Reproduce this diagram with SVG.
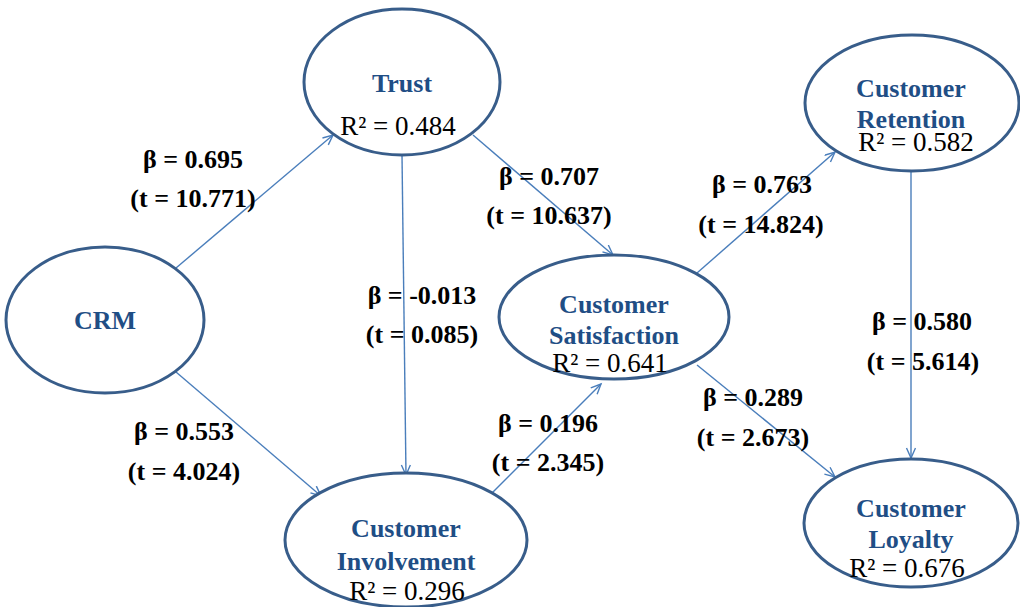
<svg xmlns="http://www.w3.org/2000/svg" width="1020" height="607" viewBox="0 0 1020 607">
<defs>
<marker id="arr" markerUnits="userSpaceOnUse" markerWidth="14" markerHeight="12" refX="11" refY="5" orient="auto">
<path d="M1,0.5 L11,5 L1,9.5" fill="none" stroke="#4A7EBB" stroke-width="1.4"/>
</marker>
<style>
.node{fill:#fff;stroke:#385D8A;stroke-width:3}
.lbl{font-family:"Liberation Serif",serif;font-weight:bold;font-size:26px;fill:#1F4E85;text-anchor:middle}
.r2{font-family:"Liberation Serif",serif;font-size:27px;fill:#000;text-anchor:middle}
.coef{font-family:"Liberation Serif",serif;font-weight:bold;font-size:26px;fill:#000;text-anchor:middle}
.edge{stroke:#4A7EBB;stroke-width:1.4;fill:none;marker-end:url(#arr)}
</style>
</defs>
<rect width="1020" height="607" fill="#fff"/>
<g id="connectors">
<line class="edge" x1="176" y1="268" x2="333" y2="135"/>
<line class="edge" x1="402" y1="155" x2="406" y2="475"/>
<line class="edge" x1="473" y1="135" x2="613" y2="255"/>
<line class="edge" x1="176" y1="372" x2="321" y2="496"/>
<line class="edge" x1="491" y1="494" x2="601" y2="384"/>
<line class="edge" x1="697" y1="273" x2="835" y2="152"/>
<line class="edge" x1="697" y1="365" x2="835" y2="477"/>
<line class="edge" x1="911" y1="172" x2="911" y2="458"/>
</g>
<g id="node-trust">
<ellipse class="node" cx="402" cy="82" rx="98" ry="73"/>
<text class="lbl" x="402" y="92">Trust</text>
<text class="r2" x="398" y="135">R² = 0.484</text>
</g>
<g id="node-crm">
<ellipse class="node" cx="105" cy="320" rx="99" ry="73"/>
<text class="lbl" x="105" y="329">CRM</text>
</g>
<g id="node-involvement">
<ellipse class="node" cx="406" cy="540" rx="121" ry="67"/>
<text class="lbl" x="406" y="537">Customer</text>
<text class="lbl" x="406" y="570">Involvement</text>
<text class="r2" x="407" y="600">R² = 0.296</text>
</g>
<g id="node-satisfaction">
<ellipse class="node" cx="614" cy="317" rx="115" ry="62"/>
<text class="lbl" x="614" y="313">Customer</text>
<text class="lbl" x="614" y="344">Satisfaction</text>
<text class="r2" x="610" y="372">R² = 0.641</text>
</g>
<g id="node-retention">
<ellipse class="node" cx="912" cy="103" rx="107" ry="68"/>
<text class="lbl" x="911" y="97">Customer</text>
<text class="lbl" x="911" y="128">Retention</text>
<text class="r2" x="916" y="151">R² = 0.582</text>
</g>
<g id="node-loyalty">
<ellipse class="node" cx="911" cy="523" rx="107" ry="64"/>
<text class="lbl" x="911" y="517">Customer</text>
<text class="lbl" x="911" y="548">Loyalty</text>
<text class="r2" x="907" y="577">R² = 0.676</text>
</g>
<g id="coefficients">
<text class="coef" x="193" y="168">β = 0.695</text>
<text class="coef" x="193" y="207">(t = 10.771)</text>
<text class="coef" x="549" y="185">β = 0.707</text>
<text class="coef" x="549" y="224">(t = 10.637)</text>
<text class="coef" x="762" y="193">β = 0.763</text>
<text class="coef" x="761" y="233">(t = 14.824)</text>
<text class="coef" x="422" y="304">β = -0.013</text>
<text class="coef" x="422" y="343">(t = 0.085)</text>
<text class="coef" x="184" y="440">β = 0.553</text>
<text class="coef" x="184" y="480">(t = 4.024)</text>
<text class="coef" x="548" y="432">β = 0.196</text>
<text class="coef" x="548" y="471">(t = 2.345)</text>
<text class="coef" x="753" y="406">β = 0.289</text>
<text class="coef" x="753" y="446">(t = 2.673)</text>
<text class="coef" x="922" y="330">β = 0.580</text>
<text class="coef" x="923" y="370">(t = 5.614)</text>
</g>
</svg>
